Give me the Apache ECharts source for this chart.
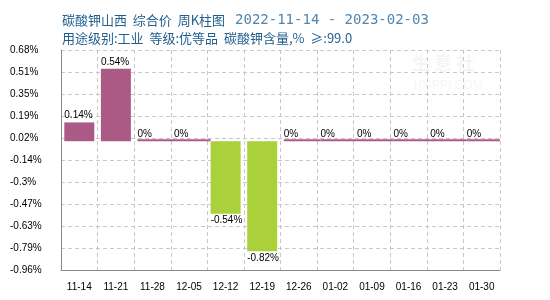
<!DOCTYPE html>
<html>
<head>
<meta charset="utf-8">
<script src="https://cdn.jsdelivr.net/npm/echarts@6/dist/echarts.min.js"></script>
<style>html,body{margin:0;padding:0;background:#fff;}#c{width:550px;height:300px;}</style>
</head>
<body>
<div id="c"></div>
<script>
var categories = ['11-14','11-21','11-28','12-05','12-12','12-19','12-26','01-02','01-09','01-16','01-23','01-30'];
var changes = [0.14, 0.54, 0, 0, -0.54, -0.82, 0, 0, 0, 0, 0, 0];
var yTickLabels = ['-0.96%','-0.79%','-0.63%','-0.47%','-0.3%','-0.14%','0.02%','0.19%','0.35%','0.51%','0.68%'];
var titleMain = '碳酸钾山西  综合价  周K柱图';
var titleDate = '2022-11-14 - 2023-02-03';
var subTitle = '用途级别:工业  等级:优等品  碳酸钾含量,%  ≥:99.0';

var UP = '#AA5A85', DOWN = '#AAD13A';
var labelFont = {fontFamily: 'Liberation Sans', fontSize: 10, color: '#000'};

var barData = changes.map(function (v) {
  return {
    value: v,
    itemStyle: {color: v < 0 ? DOWN : UP},
    label: {position: v < 0 ? 'bottom' : 'top'}
  };
});
var zeroData = changes.map(function (v) { return v === 0 ? 0 : '-'; });

var chart = echarts.init(document.getElementById('c'), null, {renderer: 'canvas'});
chart.setOption({
  animation: false,
  backgroundColor: '#fff',
  title: [
    {
      left: 57, top: 6,
      text: '{a|' + titleMain + '}  {b|' + titleDate + '}',
      textStyle: {
        fontWeight: 'normal',
        rich: {
          a: {fontFamily: 'Noto Sans CJK SC', fontSize: 13, fontWeight: 'normal', color: '#1F5E8E'},
          b: {fontFamily: 'DejaVu Sans Mono', fontSize: 14, fontWeight: 'normal', color: '#4F86B0'}
        }
      }
    },
    {
      left: 57, top: 27,
      text: subTitle,
      textStyle: {fontFamily: 'Noto Sans CJK SC', fontSize: 13, fontWeight: 'normal', color: '#1F5E8E'}
    }
  ],
  graphic: [
    {type: 'text', left: 412, top: 54, style: {text: '生 意 社', font: 'bold 18px "Noto Sans CJK SC"', fill: 'rgba(0,0,0,0.045)'}},
    {type: 'text', left: 412, top: 80, style: {text: '100PPI.COM', font: '12px "Liberation Sans"', fill: 'rgba(0,0,0,0.045)'}}
  ],
  grid: {left: 61, right: 50, top: 50, bottom: 30, containLabel: false},
  xAxis: {
    type: 'category',
    data: categories,
    boundaryGap: true,
    axisLine: {onZero: false, lineStyle: {color: '#888', width: 1}},
    axisTick: {show: false},
    axisLabel: {margin: 12, fontFamily: 'Liberation Sans', fontSize: 10, color: '#000', interval: 0},
    splitLine: {show: true, interval: 0, lineStyle: {color: '#c8c8c8', type: [4, 3], width: 1}}
  },
  yAxis: [
    {
      type: 'value', min: -0.96, max: 0.68,
      show: false,
      splitLine: {show: false}
    },
    {
      type: 'value', min: 0, max: 10, interval: 1,
      position: 'left',
      axisLine: {show: true, lineStyle: {color: '#888', width: 1}},
      axisTick: {show: false},
      axisLabel: {
        margin: 51, align: 'left', fontFamily: 'Liberation Sans', fontSize: 10, color: '#000',
        formatter: function (v) { return yTickLabels[Math.round(v)]; }
      },
      splitLine: {show: true, lineStyle: {color: '#c8c8c8', type: [4, 3], width: 1}}
    }
  ],
  series: [
    {
      type: 'bar',
      yAxisIndex: 0,
      data: zeroData,
      barWidth: '100%',
      barGap: '-100%',
      barMinHeight: 2,
      itemStyle: {color: UP},
      silent: true,
      z: 1
    },
    {
      type: 'bar',
      yAxisIndex: 0,
      data: barData,
      barWidth: 30,
      label: {
        show: true,
        distance: 2,
        align: 'left',
        offset: [-15, 0],
        fontFamily: labelFont.fontFamily,
        fontSize: labelFont.fontSize,
        color: labelFont.color,
        formatter: function (p) { return p.value + '%'; }
      },
      z: 2
    }
  ]
});
</script>
</body>
</html>
